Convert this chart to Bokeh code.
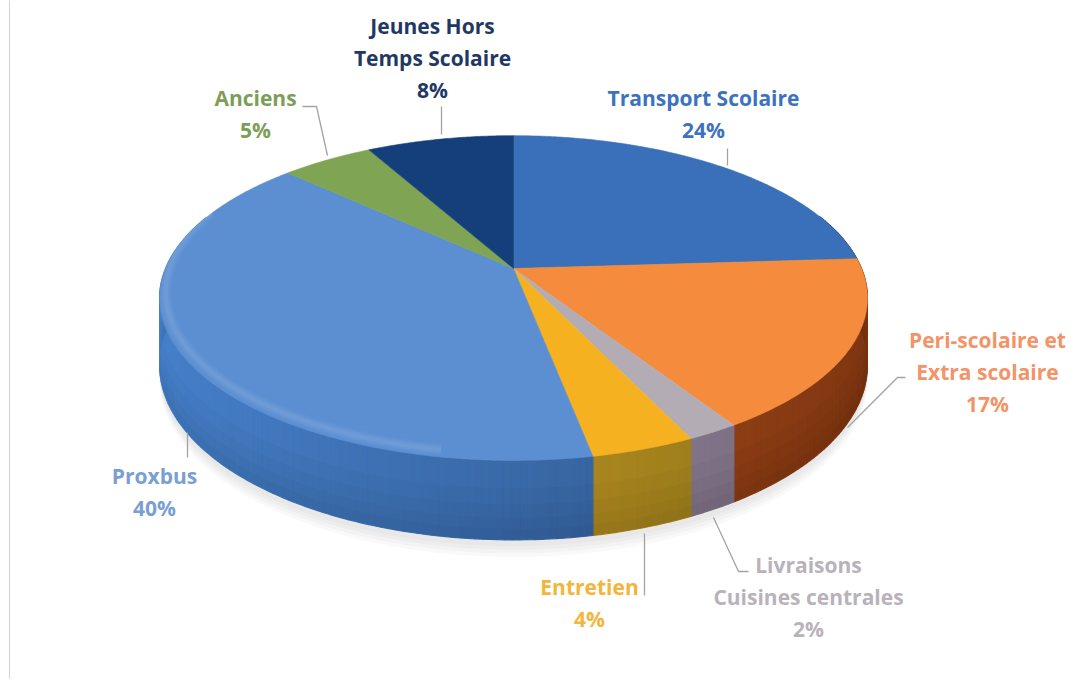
import numpy as np
from bokeh.plotting import figure
from bokeh.models import Range1d, Span
from bokeh.embed import file_html
from bokeh.resources import INLINE
from bokeh.core.properties import value

# ---------------- data ----------------
categories = ["Transport Scolaire", "Peri-scolaire et Extra scolaire",
              "Livraisons Cuisines centrales", "Entretien", "Proxbus",
              "Anciens", "Jeunes Hors Temps Scolaire"]
shares = [24, 17, 2, 4, 40, 5, 8]
label_names = [["Transport Scolaire"], ["Peri-scolaire et", "Extra scolaire"],
               ["Livraisons", "Cuisines centrales"], ["Entretien"], ["Proxbus"],
               ["Anciens"], ["Jeunes Hors", "Temps Scolaire"]]

# ---------------- styles / layout ----------------
top_colors = ["#3a70ba", "#f58b3c", "#b4acb4", "#f5b120", "#5b8fd2", "#7fa453", "#143f7a"]
side_colors = ["#2c5a9a", "#a04617", "#8f8098", "#b08c20", "#3a6aa8", "#5c7a3a", "#0e2e5a"]
label_colors = ["#3d72c0", "#f29468", "#bab2ba", "#f3b53a", "#7a9fd4", "#7c9e58", "#1f3864"]
label_pos = [(703, 113.5), (987, 371), (808, 596), (589, 602.5),
             (154, 491.5), (255, 113), (432, 57)]
LINE_GAP = 32.0
leaders = [
    ([727, 727], [148, 165]),
    ([905, 897, 847], [377, 377, 427]),
    ([748, 738, 713], [571, 571, 517]),
    ([644, 644], [533, 595]),
    ([187, 187], [432, 457]),
    ([302, 316, 327], [106, 106, 155]),
    ([441, 441], [106, 134]),
]

CX, CY, RX, RY, K, H = 513.0, 268.0, 348.0, 157.0, 0.182, 65.0
W, HGT = 1083, 679


def proj(theta, depth=0.0):
    X = np.sin(theta)
    Z = np.cos(theta)
    s = 1.0 / (1.0 + K * Z)
    return CX + RX * X * s, CY - RY * Z * s + depth * s


def hex2rgb(h):
    h = h.lstrip("#")
    return [int(h[i:i + 2], 16) for i in (0, 2, 4)]


def shade(h, f):
    r, g, b = hex2rgb(h)
    return "#%02x%02x%02x" % tuple(max(0, min(255, int(c * f))) for c in (r, g, b))


p = figure(width=W, height=HGT, x_range=Range1d(0, W), y_range=Range1d(HGT, 0),
           output_backend="svg", toolbar_location=None, min_border=0,
           x_axis_location=None, y_axis_location=None)
p.grid.visible = False
p.outline_line_color = None
p.background_fill_color = "white"
p.border_fill_color = "white"

p.add_layout(Span(location=9, dimension="height", line_color="#d4d4d4", line_width=1))

total = float(sum(shares))
bounds = np.concatenate([[0], np.cumsum(shares)]) / total * 2 * np.pi

# soft shadow under the front rim
for d in (14, 11, 8, 5):
    th = np.linspace(np.pi / 2 - 0.2, 3 * np.pi / 2 + 0.2, 200)
    xs, ys = proj(th, H + d)
    xt, yt = proj(th[::-1], H - 10)
    p.patch(list(xs) + list(xt), list(ys) + list(yt), fill_color="#9a9a9a",
            fill_alpha=0.06, line_color=None)

# sides (split into thin vertical strips for the lighting gradient)
quads = []
for i in range(len(shares)):
    a0, a1 = bounds[i], bounds[i + 1]
    n = max(2, int(np.degrees(a1 - a0)))
    ts = np.linspace(a0, a1, n + 1)
    for j in range(n):
        t0, t1 = ts[j], ts[j + 1]
        tm = (t0 + t1) / 2
        if np.cos(tm) > 0.35:
            continue
        x0, y0 = proj(t0)
        x1, y1 = proj(t1)
        x2, y2 = proj(t1, H)
        x3, y3 = proj(t0, H)
        f = 1.0 + 0.22 * (-np.sin(tm))
        c = shade(side_colors[i], f)
        quads.append((np.cos(tm), [x0, x1, x2, x3], [y0, y1, y2, y3], c))
quads.sort(key=lambda q: -q[0])
p.patches([q[1] for q in quads], [q[2] for q in quads],
          fill_color=[q[3] for q in quads], line_color=[q[3] for q in quads], line_width=1.2)

# gradual darkening toward the bottom of the side
th = np.linspace(np.pi / 2 - 0.2, 3 * np.pi / 2 + 0.2, 200)
for frac in (0.35, 0.55, 0.72, 0.86):
    xb, yb = proj(th, H)
    xm, ym = proj(th[::-1], H * frac)
    p.patch(list(xb) + list(xm), list(yb) + list(ym), fill_color="#000000",
            fill_alpha=0.025, line_color=None)

# top faces
for i in range(len(shares)):
    ts = np.linspace(bounds[i], bounds[i + 1], max(3, int(np.degrees(bounds[i + 1] - bounds[i])) * 2))
    xs, ys = proj(ts)
    p.patch([CX] + list(xs), [CY] + list(ys), fill_color=top_colors[i],
            line_color=top_colors[i], line_width=0.6)

# soft bevel highlight along the front rim
th = np.linspace(np.radians(190), np.radians(290), 120)
for w, a in ((12, 0.035), (8, 0.045), (4, 0.055)):
    xs, ys = proj(th, -6)
    xs = CX + (xs - CX) * 0.983
    p.line(xs, ys, line_color="white", line_alpha=a, line_width=w)

# leader lines
for xs, ys in leaders:
    p.line(xs, ys, line_color="#a3a3a3", line_width=1.3)

# labels
tx, ty, tt, tc = [], [], [], []
for (cx, cy), names, v, col in zip(label_pos, label_names, shares, label_colors):
    lines = names + [f"{v}%"]
    n = len(lines)
    for k, line in enumerate(lines):
        tx.append(cx)
        ty.append(cy + (k - (n - 1) / 2) * LINE_GAP)
        tt.append(line)
        tc.append(col)
p.text(x=tx, y=ty, text=tt, text_color=tc, text_font=value("Open Sans"),
       text_font_style="bold", text_font_size="21px", text_align="center",
       text_baseline="middle")

open("out.html", "w").write(file_html(p, INLINE))
